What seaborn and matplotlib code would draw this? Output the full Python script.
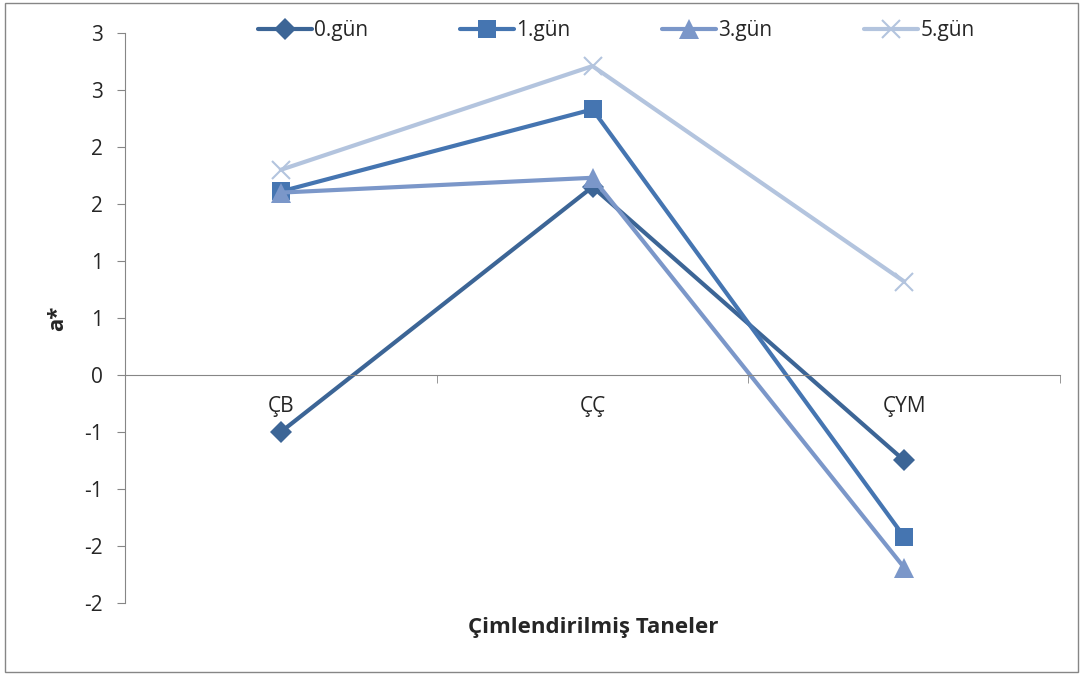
import numpy as np
import pandas as pd
import seaborn as sns
import matplotlib.pyplot as plt
from matplotlib.patches import Rectangle

# data
categories = ["ÇB", "ÇÇ", "ÇYM"]
gun0 = [-0.50, 1.65, -0.75]
gun1 = [1.61, 2.33, -1.42]
gun3 = [1.60, 1.73, -1.69]
gun5 = [1.80, 2.71, 0.82]
series_names = ["0.gün", "1.gün", "3.gün", "5.gün"]
ytick_vals = [3.0, 2.5, 2.0, 1.5, 1.0, 0.5, 0.0, -0.5, -1.0, -1.5, -2.0]
ytick_labels = ["3", "3", "2", "2", "1", "1", "0", "-1", "-1", "-2", "-2"]

rows = []
for name, vals in zip(series_names, [gun0, gun1, gun3, gun5]):
  for c, v in zip(categories, vals):
    rows.append([c, name, v])
df = pd.DataFrame(rows, columns=["kategori", "gun", "a"])

sns.set_style("white")
plt.rcParams['font.family'] = ['Open Sans', 'DejaVu Sans']

colors = {"0.gün": "#3C6596", "1.gün": "#4575B1", "3.gün": "#7B97C9", "5.gün": "#B3C4DE"}
markers = {"0.gün": "D", "1.gün": "s", "3.gün": "^", "5.gün": "x"}
msizes = {"0.gün": 11, "1.gün": 13, "3.gün": 14, "5.gün": 13}

fig = plt.figure(figsize=(10.83, 6.75), dpi=100)
ax = fig.add_axes([0.1154, 0.1067, 0.8634, 0.8444])

for name in series_names:
  d = df[df["gun"] == name]
  sns.lineplot(data=d, x="kategori", y="a", color=colors[name], marker=markers[name],
               markersize=msizes[name], markeredgewidth=1.5 if name == "5.gün" else 0,
               markeredgecolor=colors[name], linewidth=3, label=name, ax=ax, sort=False)

ax.set_xlim(-0.5, 2.5)
ax.set_ylim(-2.0, 3.0)
ax.set_yticks(ytick_vals)
ax.set_yticklabels(ytick_labels, fontsize=15)
ax.tick_params(axis='y', direction='out', length=6, color='#868686', pad=10, left=True)

ax.spines['top'].set_visible(False)
ax.spines['right'].set_visible(False)
ax.spines['left'].set_color('#868686')
ax.spines['bottom'].set_position(('data', 0))
ax.spines['bottom'].set_color('#868686')
ax.set_xticks([0, 1, 2])
ax.set_xticklabels(categories, fontsize=15)
ax.set_xticks([0.5, 1.5, 2.5], minor=True)
ax.tick_params(axis='x', which='major', length=0, pad=15)
ax.tick_params(axis='x', which='minor', direction='out', length=6, color='#868686', bottom=True)

ax.set_xlabel("")
ax.set_ylabel("")
fig.text(0.5475, 0.071, "Çimlendirilmiş Taneler", ha='center', va='center',
         fontsize=16, fontweight='bold')
fig.text(0.053, 0.529, "a*", ha='center', va='center', rotation=90,
         fontsize=16, fontweight='bold')

ax.legend(loc='center', bbox_to_anchor=(0.569, 0.955), bbox_transform=fig.transFigure,
          ncol=4, frameon=False, fontsize=15, handlelength=2.6, columnspacing=4.4,
          handletextpad=0.1)

fig.patches.append(Rectangle((0.005, 0.004), 0.99, 0.992, transform=fig.transFigure,
                             fill=False, edgecolor='#868686', linewidth=1))

fig.savefig("out.png", dpi=100)
